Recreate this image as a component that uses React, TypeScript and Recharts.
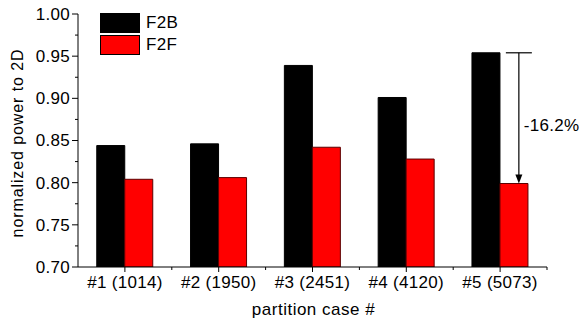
import React from 'react';
import { BarChart, Bar, XAxis, YAxis, Legend, ReferenceLine, Label } from 'recharts';

// Partition cases and normalized power (relative to 2D) per design style
const categories = ['#1 (1014)', '#2 (1950)', '#3 (2451)', '#4 (4120)', '#5 (5073)'];
const f2bValues = [0.844, 0.846, 0.939, 0.901, 0.954];
const f2fValues = [0.804, 0.806, 0.842, 0.828, 0.799];
const seriesNames = ['F2B', 'F2F'];
const yMajorTicks = [0.7, 0.75, 0.8, 0.85, 0.9, 0.95, 1.0];
const yMinorTicks = [0.725, 0.775, 0.825, 0.875, 0.925, 0.975];
const annotatedIndex = 4;

const data = categories.map((name, i) => ({
  name,
  [seriesNames[0]]: f2bValues[i],
  [seriesNames[1]]: f2fValues[i],
}));

const reduction = (f2bValues[annotatedIndex] - f2fValues[annotatedIndex]) / f2bValues[annotatedIndex];
const reductionLabel = `-${(reduction * 100).toFixed(1)}%`;

const WIDTH = 579;
const HEIGHT = 320;
const MARGIN = { top: 14, right: 32, bottom: 0, left: 0 };
const Y_AXIS_WIDTH = 78;
const X_AXIS_HEIGHT = 53;
const BAND = (WIDTH - MARGIN.left - MARGIN.right - Y_AXIS_WIDTH) / categories.length;

const FONT = '"Liberation Sans", Arial, Helvetica, sans-serif';
const textStyle = { fontFamily: FONT, fontSize: 17, fill: '#000', letterSpacing: 0.3 };

const YTick = (props: any) => {
  const { x, y, payload } = props;
  const v = payload.value as number;
  const major = yMajorTicks.some((t) => Math.abs(t - v) < 1e-6);
  return (
    <g>
      <line x1={x - (major ? 6 : 3)} x2={x} y1={y} y2={y} stroke="#000" strokeWidth={1} />
      {major && (
        <text x={x - 8} y={y} dy="0.35em" textAnchor="end" style={textStyle}>
          {v.toFixed(2)}
        </text>
      )}
    </g>
  );
};

const XTick = (props: any) => {
  const { x, y, payload } = props;
  const half = BAND / 2;
  return (
    <g>
      <line x1={x} x2={x} y1={y} y2={y + 5} stroke="#000" strokeWidth={1} />
      <line x1={x + half} x2={x + half} y1={y} y2={y + 3} stroke="#000" strokeWidth={1} />
      <text x={x} y={y + 15.5} dy="0.35em" textAnchor="middle" style={textStyle}>
        {payload.value}
      </text>
    </g>
  );
};

const LegendContent = (props: any) => {
  const items = props.payload || [];
  return (
    <div style={{ fontFamily: FONT }}>
      {items.map((item: any) => (
        <div key={item.value} style={{ display: 'flex', alignItems: 'center', height: 22.3 }}>
          <div
            style={{
              width: 40,
              height: 20,
              background: item.color,
              border: '1px solid #000',
              boxSizing: 'border-box',
            }}
          />
          <span style={{ marginLeft: 6, fontSize: 17, letterSpacing: 0.3, color: '#000' }}>{item.value}</span>
        </div>
      ))}
    </div>
  );
};

// Bracket with arrow showing the drop from F2B to F2F in the annotated case
const DropArrow = (props: any) => {
  const { x1, y1, y2 } = props;
  const cx = x1 + BAND * 0.2;
  const top = Math.min(y1, y2);
  const bottom = Math.max(y1, y2);
  return (
    <g>
      <line x1={cx - 13} x2={cx + 13} y1={top} y2={top} stroke="#000" strokeWidth={1.2} />
      <line x1={cx} x2={cx} y1={top} y2={bottom - 8} stroke="#000" strokeWidth={1.2} />
      <path d={`M${cx - 3.5},${bottom - 9} L${cx + 3.5},${bottom - 9} L${cx},${bottom} Z`} fill="#000" />
      <text x={cx + 5} y={(top + bottom) / 2 + 7} dy="0.35em" textAnchor="start" style={textStyle}>
        {reductionLabel}
      </text>
    </g>
  );
};

const YTitle = (props: any) => {
  const { viewBox } = props;
  const x = viewBox.x + 22.7;
  const y = viewBox.y + viewBox.height / 2 + 2.5;
  return (
    <text
      x={x}
      y={y}
      transform={`rotate(-90, ${x}, ${y})`}
      textAnchor="middle"
      style={{ fontFamily: FONT, fontSize: 16, letterSpacing: 0.9, fill: '#000' }}
    >
      normalized power to 2D
    </text>
  );
};

const XTitle = (props: any) => {
  const { viewBox } = props;
  const x = viewBox.x + viewBox.width / 2 + 1;
  const y = viewBox.y + 47.5;
  return (
    <text x={x} y={y} textAnchor="middle" style={{ fontFamily: FONT, fontSize: 17, letterSpacing: 0.5, fill: '#000' }}>
      partition case #
    </text>
  );
};

export default function App() {
  return (
    <div style={{ position: 'absolute', left: 0, top: 0, width: WIDTH, height: HEIGHT, background: '#fff' }}>
      <BarChart
        width={WIDTH}
        height={HEIGHT}
        data={data}
        margin={MARGIN}
        barCategoryGap="20%"
        barGap={0}
      >
        <XAxis
          dataKey="name"
          type="category"
          height={X_AXIS_HEIGHT}
          interval={0}
          tickLine={false}
          tickSize={0}
          tickMargin={0}
          tick={<XTick />}
          axisLine={{ stroke: '#000', strokeWidth: 1 }}
        >
          <Label content={<XTitle />} />
        </XAxis>
        <YAxis
          type="number"
          domain={[0.7, 1.0]}
          ticks={[...yMajorTicks, ...yMinorTicks].sort((a, b) => a - b)}
          interval={0}
          allowDataOverflow
          width={Y_AXIS_WIDTH}
          tickLine={false}
          tickSize={0}
          tickMargin={0}
          tick={<YTick />}
          axisLine={{ stroke: '#000', strokeWidth: 1 }}
        >
          <Label content={<YTitle />} />
        </YAxis>
        <Legend
          layout="vertical"
          align="center"
          verticalAlign="middle"
          content={<LegendContent />}
          wrapperStyle={{ left: 100, top: 12, width: 'auto', height: 'auto' }}
        />
        <Bar dataKey={seriesNames[0]} fill="#000000" stroke="#000000" strokeWidth={1} isAnimationActive={false} />
        <Bar dataKey={seriesNames[1]} fill="#ff0000" stroke="#5c0000" strokeWidth={1} isAnimationActive={false} />
        <ReferenceLine
          segment={[
            { x: categories[annotatedIndex], y: f2bValues[annotatedIndex] },
            { x: categories[annotatedIndex], y: f2fValues[annotatedIndex] },
          ]}
          ifOverflow="visible"
          shape={(p: any) => <DropArrow {...p} />}
        />
      </BarChart>
    </div>
  );
}
